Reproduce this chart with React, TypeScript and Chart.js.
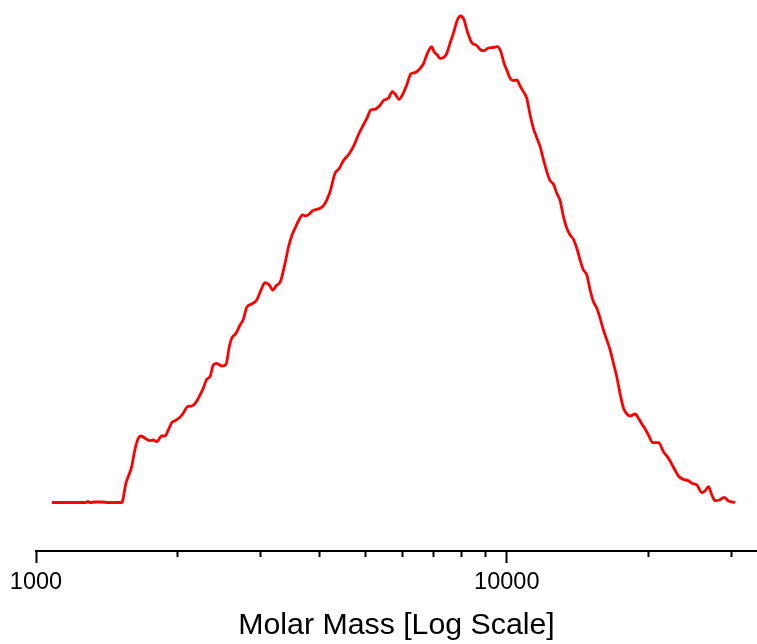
import React, { useEffect, useRef } from 'react';
import { Chart, registerables } from 'chart.js';

Chart.register(...registerables);

// Molar mass (g/mol) sample positions along the distribution
const molarMass = [
  1081, 1181, 1277, 1289, 1302, 1334, 1367, 1436, 1521, 1553,
  1597, 1609, 1631, 1647, 1671, 1718, 1746, 1775, 1805, 1849,
  1879, 1910, 1942, 1974, 2022, 2055, 2096, 2142, 2187, 2230,
  2267, 2305, 2342, 2380, 2420, 2480, 2533, 2574, 2605, 2660,
  2713, 2757, 2803, 2872, 2943, 3016, 3065, 3130, 3183, 3235,
  3310, 3381, 3436, 3493, 3550, 3608, 3686, 3746, 3807, 3871,
  4012, 4091, 4213, 4317, 4409, 4496, 4608, 4722, 4838, 4958,
  5056, 5141, 5250, 5362, 5487, 5604, 5714, 5790, 5905, 6000,
  6131, 6252, 6385, 6521, 6649, 6761, 6848, 6928, 7007, 7121,
  7215, 7333, 7456, 7577, 7701, 7853, 7985, 8115, 8247, 8426,
  8605, 8805, 8949, 9139, 9365, 9537, 9701, 9869, 10000, 10163,
  10328, 10501, 10672, 10846, 11028, 11208, 11390, 11581, 11770, 11961,
  12162, 12360, 12561, 12772, 12980, 13191, 13413, 13631, 13853, 14085,
  14314, 14547, 14791, 15032, 15277, 15533, 15786, 16043, 16312, 16578,
  16848, 17130, 17409, 17693, 17990, 18283, 18735, 19040, 19360, 19675,
  19996, 20431, 20999, 21519, 22052, 22597, 23156, 23660, 24317, 24725,
  25337, 25964, 26387, 26816, 27266, 27710, 28299, 28958, 29574, 30560,
];

// Detector signal (arbitrary units)
const signal = [
  0, 0, 0, 1, 0, 0.5, 0.5, 0, 0, 19.5,
  35.8, 44.2, 57.5, 63.5, 66.5, 63.2, 61.8, 62.5, 60.8, 66.5,
  66.5, 72.5, 79.8, 81.8, 85.2, 89.2, 95.8, 96.5, 100.2, 107.5,
  114.2, 123.2, 125.8, 137.5, 139.2, 136.5, 138.2, 155.8, 164.2, 169.2,
  177.5, 183.2, 195.2, 198.5, 202.5, 214.2, 219.8, 217.5, 212.5, 216.5,
  221.8, 239.2, 255, 266.5, 274.2, 281.5, 287.5, 286.5, 288.5, 291.8,
  294.2, 297.5, 310.8, 329.2, 334.2, 341.8, 347.5, 355.8, 367.5, 377.5,
  385.2, 392.5, 393.2, 396.5, 402.5, 404.2, 410.8, 408.5, 403.2, 407.5,
  417.5, 428.5, 429.8, 433.2, 438.5, 447.5, 453.2, 455.8, 450.8, 447.5,
  444.2, 444.8, 449.2, 459.2, 469.2, 482.5, 486.5, 482.5, 470.8, 459.8,
  457.5, 452.5, 451.8, 454.5, 455, 455.8, 451.5, 439.2, 432.5, 424.2,
  421.8, 422.5, 416.5, 410.8, 404.2, 387.5, 374.2, 364.8, 355.8, 343.2,
  330.8, 321.8, 318.5, 309.2, 301.8, 285.8, 274.2, 267.5, 263.2, 254.2,
  242.5, 232.5, 227.5, 212.5, 200.8, 194.2, 184.2, 172.5, 162.5, 152.5,
  139.2, 125.5, 108.5, 94.5, 88.5, 86.5, 88.5, 84.2, 78.5, 73.5,
  67.5, 59.8, 59.8, 50.8, 44.2, 35.2, 26.5, 23.2, 21.8, 19.2,
  17.5, 9.8, 11.8, 15.8, 7.5, 1.8, 2.5, 5.2, 1.5, 0,
];

const tickValues = [1000, 2000, 3000, 4000, 5000, 6000, 7000, 8000, 9000, 10000, 20000, 30000];
const labeledTicks = [1000, 10000];

const FONT = "'Liberation Sans', Arial, Helvetica, sans-serif";

export default function App() {
  const ref = useRef<HTMLCanvasElement>(null);

  useEffect(() => {
    document.body.style.margin = '0';
    const canvas = ref.current;
    if (!canvas) return;
    const chart = new Chart(canvas, {
      type: 'line',
      data: {
        datasets: [
          {
            data: molarMass.map((m, i) => ({ x: m, y: signal[i] })),
            borderColor: '#ff0000',
            borderWidth: 2.8,
            pointRadius: 0,
            fill: false,
            cubicInterpolationMode: 'monotone',
          },
        ],
      },
      options: {
        responsive: false,
        animation: false,
        devicePixelRatio: 1,
        layout: { padding: { left: 36, right: 0, top: 10, bottom: 0 } },
        plugins: { legend: { display: false }, tooltip: { enabled: false } },
        scales: {
          x: {
            type: 'logarithmic',
            position: 'bottom',
            min: 1000,
            max: 34000,
            afterBuildTicks: (s: any) => {
              s.ticks = tickValues.map((v) => ({ value: v }));
            },
            afterFit: (s: any) => {
              s.height = 93;
            },
            grid: {
              display: true,
              drawOnChartArea: false,
              drawTicks: true,
              tickLength: 12,
              tickWidth: 2,
              tickColor: '#000',
              tickBorderDash: (ctx: any) =>
                ctx.tick && labeledTicks.includes(ctx.tick.value) ? [] : [5, 30],
            },
            border: { display: true, color: '#000', width: 2 },
            ticks: {
              autoSkip: false,
              maxRotation: 0,
              minRotation: 0,
              padding: 5,
              color: '#000',
              font: { family: FONT, size: 23.5 },
              callback: (v: any) => (labeledTicks.includes(Number(v)) ? String(v) : ''),
            },
            title: {
              display: true,
              text: 'Molar Mass [Log Scale]',
              color: '#000',
              font: { family: FONT, size: 30.3 },
              padding: { top: 0, bottom: 0 },
            },
          },
          y: { display: false, min: -48.5, max: 492.5 },
        },
      },
    });
    return () => chart.destroy();
  }, []);

  return <canvas ref={ref} width={757} height={644} style={{ display: 'block' }} />;
}
